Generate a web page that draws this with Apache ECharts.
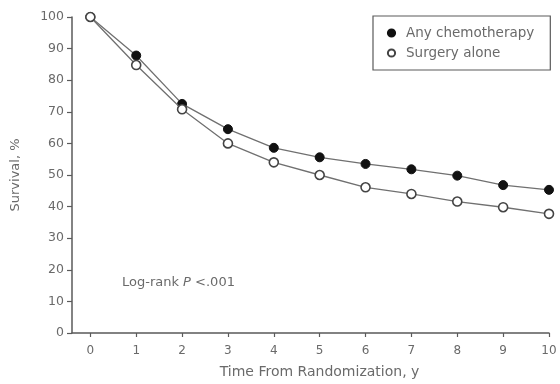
<!DOCTYPE html>
<html>
<head>
<meta charset="utf-8">
<script src="https://cdn.jsdelivr.net/npm/echarts@6/dist/echarts.min.js"></script>
<style>
  html, body { margin: 0; padding: 0; background: #fff; }
  #chart { width: 560px; height: 384px; }
</style>
</head>
<body>
<div id="chart"></div>
<script>
  // years since randomization
  var years = [0, 1, 2, 3, 4, 5, 6, 7, 8, 9, 10];
  // survival, %
  var chemo   = [100, 87.8, 72.5, 64.5, 58.6, 55.6, 53.5, 51.8, 49.8, 46.8, 45.3];
  var surgery = [100, 84.8, 70.8, 60.0, 54.0, 50.0, 46.1, 44.0, 41.6, 39.8, 37.7];
  var yTicks = [0, 10, 20, 30, 40, 50, 60, 70, 80, 90, 100];

  var font = 'DejaVu Sans';
  var axisColor = '#5a5a5a';
  var textColor = '#6a6a6a';

  function pairs(vals) {
    return years.map(function (x, i) { return [x, vals[i]]; });
  }

  var chart = echarts.init(document.getElementById('chart'));

  var option = {
    animation: false,
    backgroundColor: '#fff',
    grid: { left: 72, right: 11, top: 17, bottom: 51 },
    legend: {
      orient: 'vertical',
      left: 373,
      top: 16,
      itemWidth: 9,
      itemHeight: 9,
      itemGap: 6,
      padding: [10, 16, 10, 13],
      borderColor: axisColor,
      borderWidth: 1.2,
      textStyle: { fontFamily: font, fontSize: 13.5, color: textColor, padding: [0, 0, 0, 5] },
      data: ['Any chemotherapy', 'Surgery alone']
    },
    xAxis: {
      type: 'value',
      min: -0.4,
      max: 10,
      name: 'Time From Randomization, y',
      nameLocation: 'middle',
      nameGap: 32,
      nameTextStyle: { fontFamily: font, fontSize: 14, color: textColor, padding: [0, 0, 0, 18] },
      splitLine: { show: false },
      axisLine: { onZero: false, lineStyle: { color: axisColor, width: 1.5 } },
      axisTick: { show: true, customValues: years, length: 4, lineStyle: { color: axisColor, width: 1.2 } },
      axisLabel: { customValues: years, margin: 12, fontFamily: font, fontSize: 12, color: textColor }
    },
    yAxis: {
      type: 'value',
      min: 0,
      max: 100,
      interval: 10,
      name: 'Survival, %',
      nameLocation: 'middle',
      nameGap: 50,
      nameTextStyle: { fontFamily: font, fontSize: 13, color: textColor },
      splitLine: { show: false },
      axisLine: { show: true, onZero: false, lineStyle: { color: axisColor, width: 1.5 } },
      axisTick: { show: true, customValues: yTicks, length: 5, lineStyle: { color: axisColor, width: 1.2 } },
      axisLabel: { customValues: yTicks, margin: 8, fontFamily: font, fontSize: 12.5, color: textColor }
    },
    graphic: [{
      type: 'text',
      left: 122,
      top: 276,
      style: {
        text: 'Log-rank {i|P} <.001',
        font: '13px "DejaVu Sans"',
        fill: textColor,
        rich: { i: { fontStyle: 'italic', fontFamily: font, fontSize: 13, fill: textColor } }
      }
    }],
    series: [
      {
        name: 'Any chemotherapy',
        type: 'line',
        data: pairs(chemo),
        symbol: 'circle',
        symbolSize: 9,
        z: 3,
        lineStyle: { color: '#707070', width: 1.3 },
        itemStyle: { color: '#111', borderColor: '#111', borderWidth: 1 }
      },
      {
        name: 'Surgery alone',
        type: 'line',
        data: pairs(surgery),
        symbol: 'circle',
        symbolSize: 9,
        z: 4,
        lineStyle: { color: '#707070', width: 1.3 },
        itemStyle: { color: '#fff', borderColor: '#444', borderWidth: 1.6 }
      }
    ]
  };

  chart.setOption(option);
</script>
</body>
</html>
